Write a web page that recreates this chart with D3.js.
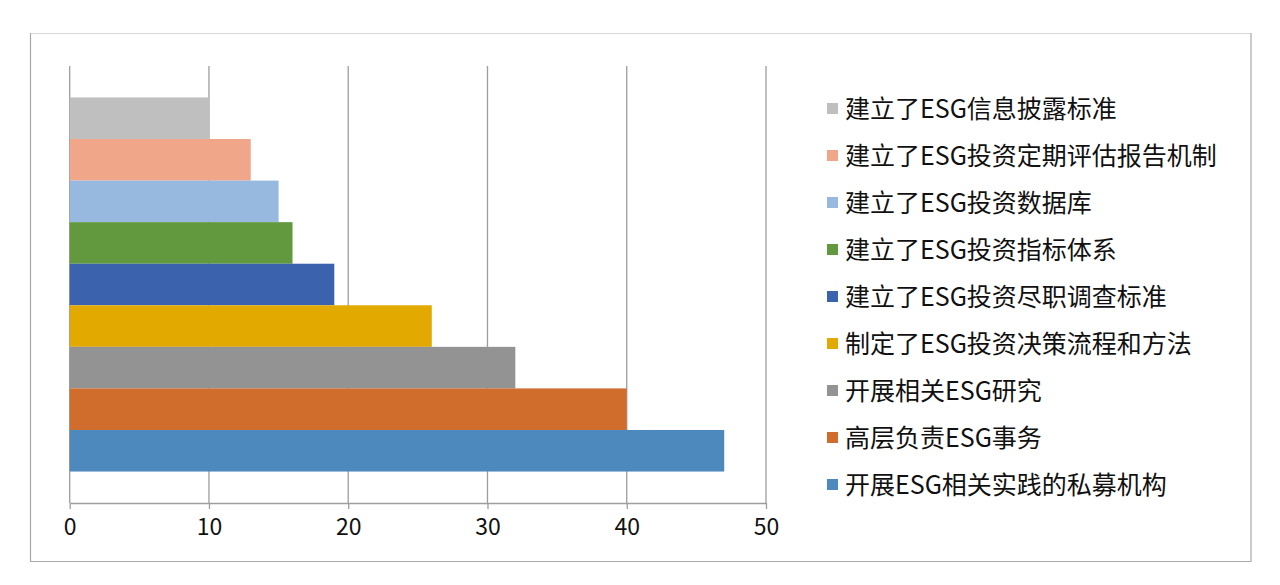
<!DOCTYPE html>
<html>
<head>
<meta charset="utf-8">
<script src="https://cdn.jsdelivr.net/npm/d3@7"></script>
<style>
  html, body { margin: 0; padding: 0; background: #fff; }
  svg { display: block; font-family: "Noto Sans CJK SC", "Noto Sans", sans-serif; }
</style>
</head>
<body>
<div id="chart"></div>
<script>
// series, top to bottom as drawn
const seriesNames = [
    "建立了ESG信息披露标准",
    "建立了ESG投资定期评估报告机制",
    "建立了ESG投资数据库",
    "建立了ESG投资指标体系",
    "建立了ESG投资尽职调查标准",
    "制定了ESG投资决策流程和方法",
    "开展相关ESG研究",
    "高层负责ESG事务",
    "开展ESG相关实践的私募机构"
];
const seriesValues = [10, 13, 15, 16, 19, 26, 32, 40, 47];
const seriesColors = ["#bfbfbf", "#f0a688", "#97b9e0", "#62993e", "#3b63ad", "#e2a900", "#939393", "#d06d2d", "#4e89bd"];
const xTicks = [0, 10, 20, 30, 40, 50];

document.addEventListener('DOMContentLoaded', function() {
    const width = 1280, height = 585;
    const plot = { left: 69.7, right: 766, top: 66, bottom: 503 };

    const svg = d3.select("#chart").append("svg")
        .attr("width", width)
        .attr("height", height)
        .attr("viewBox", `0 0 ${width} ${height}`);

    // outer frame
    svg.append("line").attr("x1", 30).attr("x2", 1251).attr("y1", 33.5).attr("y2", 33.5)
        .attr("stroke", "#d9d9d9").attr("stroke-width", 1.2);
    svg.append("path")
        .attr("d", "M30.5,33 V561.5 H1251 V33")
        .attr("fill", "none").attr("stroke", "#a8a8a8").attr("stroke-width", 1.2);

    const x = d3.scaleLinear().domain([0, 50]).range([plot.left, plot.right]);
    const y = d3.scaleBand().domain(seriesNames).range([plot.top, plot.bottom])
        .paddingInner(0).paddingOuter(0.757);

    // vertical gridlines
    svg.append("g").selectAll("line")
        .data(xTicks)
        .enter().append("line")
        .attr("x1", d => x(d)).attr("x2", d => x(d))
        .attr("y1", plot.top).attr("y2", plot.bottom)
        .attr("stroke", "#9d9d9d").attr("stroke-width", 1.3);

    // bars
    svg.append("g").selectAll("rect")
        .data(seriesValues)
        .enter().append("rect")
        .attr("x", x(0))
        .attr("y", (d, i) => y(seriesNames[i]))
        .attr("width", d => x(d) - x(0))
        .attr("height", y.bandwidth())
        .attr("fill", (d, i) => seriesColors[i]);

    // bottom axis
    const axis = svg.append("g")
        .attr("transform", `translate(0,${plot.bottom})`)
        .call(d3.axisBottom(x).tickValues(xTicks).tickSize(6).tickPadding(10).tickSizeOuter(0));
    axis.select(".domain").attr("stroke", "#9d9d9d").attr("stroke-width", 1.3);
    axis.selectAll(".tick line").attr("stroke", "#9d9d9d").attr("stroke-width", 1.3);
    axis.selectAll(".tick text")
        .attr("fill", "#111")
        .style("font-size", "23px")
        .style("font-family", "'Noto Sans CJK SC', sans-serif");

    // legend
    const legend = svg.append("g").selectAll("g")
        .data(seriesNames)
        .enter().append("g")
        .attr("transform", (d, i) => `translate(827,${109 + i * 47})`);

    legend.append("rect")
        .attr("x", 0).attr("y", -6)
        .attr("width", 11).attr("height", 11)
        .attr("fill", (d, i) => seriesColors[i]);

    legend.append("text")
        .attr("x", 18)
        .attr("dy", "0.35em")
        .attr("fill", "#111")
        .style("font-size", "25px")
        .text(d => d);
});
</script>
</body>
</html>
